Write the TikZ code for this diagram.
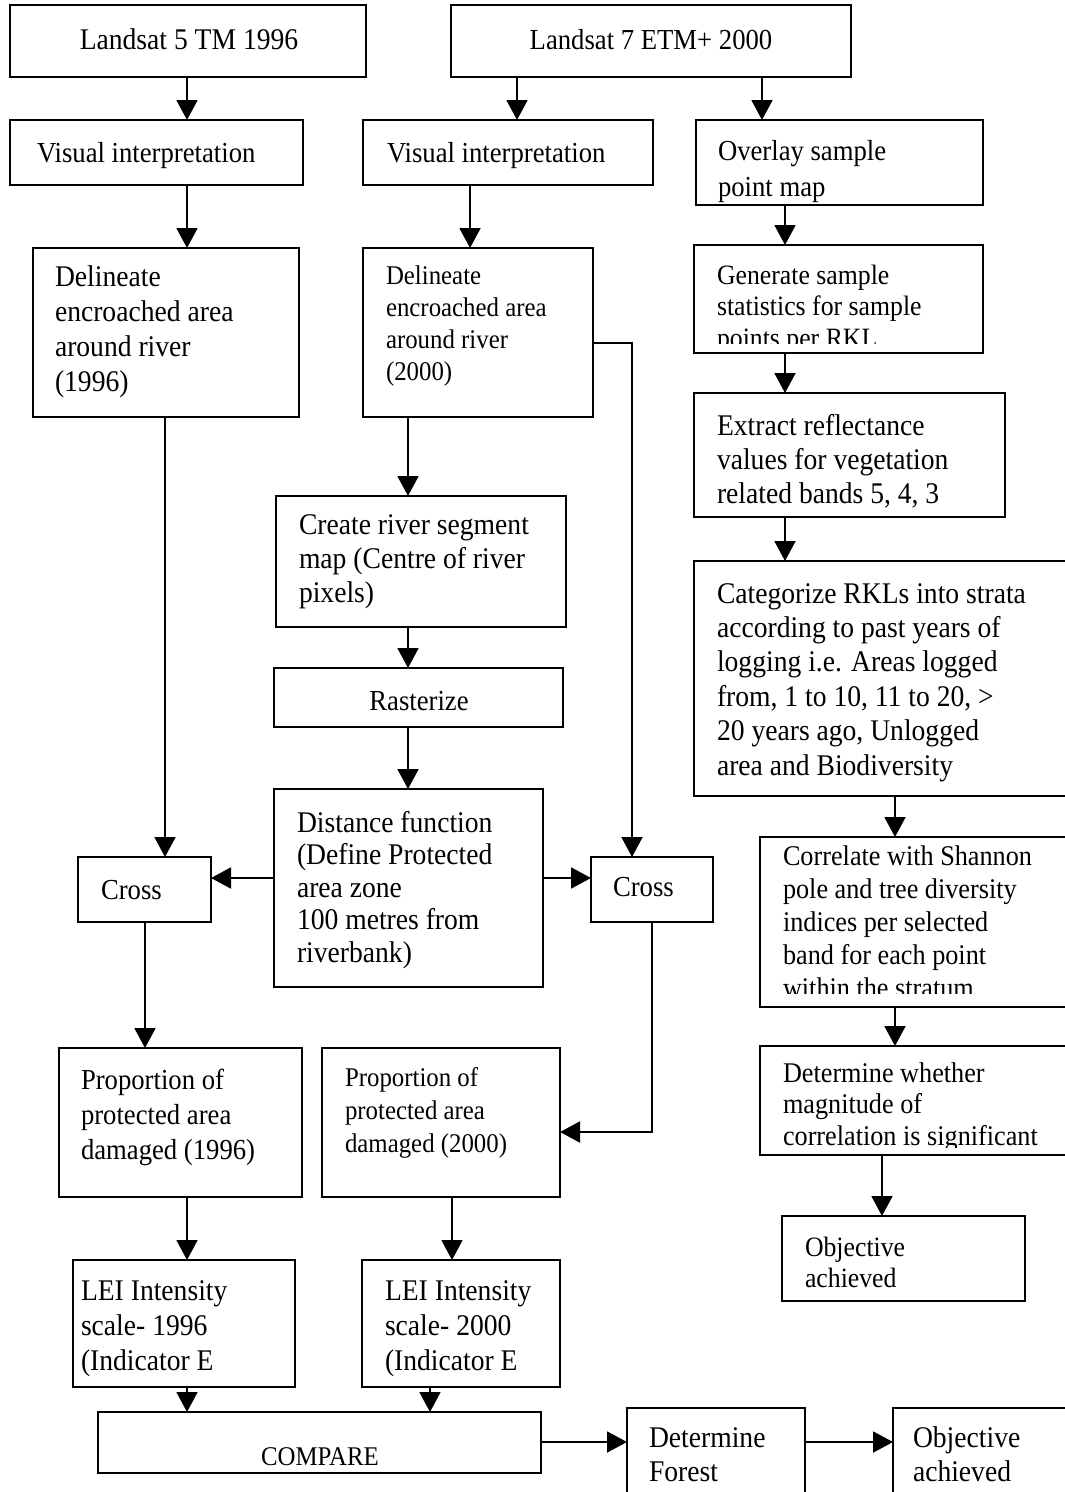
\documentclass[tikz,border=0pt]{standalone}
\usepackage{fontspec}
\setmainfont[FakeStretch=0.92]{Liberation Serif}
\usetikzlibrary{arrows.meta,calc}
\tikzset{
  box/.style={draw, line width=1.9pt, inner sep=0pt, outer sep=0pt, rectangle},
  arr/.style={line width=1.9pt, -{Triangle[length=20pt,width=21pt]}},
  txt/.style={inner sep=0pt, outer sep=0pt, align=left, anchor=north west},
  ctxt/.style={inner sep=0pt, outer sep=0pt, anchor=base},
}
\newcommand\bx[5]{\node[box, anchor=north west, minimum width={#4-#2}, minimum height={#5-#3}] (#1) at (#2,#3) {};}
\newcommand\tx[6]{\node[txt, font=\fontsize{#2}{#3}\selectfont] (#1) at (#4,{#5-24}) {\rule{0pt}{24pt}#6};}
\begin{document}
\begin{tikzpicture}[x=1pt,y=-1pt]
\useasboundingbox (0,0) rectangle (1065,1492);
\clip (0,0) rectangle (1065,1492);
\fill[white] (0,0) rectangle (1065,1492);

% boxes
\bx{ls5}{10}{5}{366}{77}
\bx{ls7}{451}{5}{851}{77}
\bx{vi1}{10}{120}{303}{185}
\bx{vi2}{363}{120}{653}{185}
\bx{ovl}{696}{120}{983}{205}
\bx{del1}{33}{248}{299}{417}
\bx{del2}{363}{248}{593}{417}
\bx{gen}{694}{245}{983}{353}
\bx{ext}{694}{393}{1005}{517}
\bx{crt}{276}{496}{566}{627}
\bx{cat}{694}{561}{1075}{796}
\bx{ras}{274}{668}{563}{727}
\bx{dist}{274}{789}{543}{987}
\bx{crL}{78}{857}{211}{922}
\bx{crM}{591}{857}{713}{922}
\bx{cor}{760}{837}{1075}{1007}
\bx{propL}{59}{1048}{302}{1197}
\bx{propM}{322}{1048}{560}{1197}
\bx{det}{760}{1046}{1075}{1155}
\bx{obj1}{782}{1216}{1025}{1301}
\bx{leiL}{73}{1260}{295}{1387}
\bx{leiM}{362}{1260}{560}{1387}
\bx{cmp}{98}{1412}{541}{1473}
\bx{detf}{627}{1408}{805}{1510}
\bx{obj2}{893}{1408}{1075}{1510}

% texts
\node[ctxt, font=\fontsize{30}{34}\selectfont] (t1) at (189,49) {Landsat 5 TM 1996};
\node[ctxt, font=\fontsize{29}{34}\selectfont] (t2) at (651,49) {Landsat 7 ETM+ 2000};
\tx{t3}{29}{34}{37}{162}{Visual interpretation}
\tx{t4}{29}{34}{387}{162}{Visual interpretation}
\tx{t5}{29}{36}{718}{160}{Overlay sample\\point map}
\tx{t6}{30}{35}{55}{286}{Delineate\\encroached area\\around river\\(1996)}
\tx{t7}{27}{32}{386}{284}{Delineate\\encroached area\\around river\\(2000)}
\begin{scope}
  \clip (gen.north west) rectangle ([yshift=10pt]gen.south east);
  \tx{t8}{28}{31.5}{717}{284}{Generate sample\\statistics for sample\\points per RKL}
\end{scope}
\tx{t9}{30}{34}{717}{435}{Extract reflectance\\values for vegetation\\related bands 5, 4, 3}
\tx{t10}{30}{34}{299}{534}{Create river segment\\map (Centre of river\\pixels)}
\tx{t11}{30}{34.4}{717}{603}{Categorize RKLs into strata\\according to past years of\\logging i.e. Areas logged\\from, 1 to 10, 11 to 20, >\\20 years ago, Unlogged\\area and Biodiversity}
\node[ctxt, font=\fontsize{29}{34}\selectfont] (t12) at (419,710) {Rasterize};
\tx{t13}{30}{32.5}{297}{832}{Distance function\\(Define Protected\\area zone\\100 metres from\\riverbank)}
\tx{t14}{29}{34}{101}{899}{Cross}
\tx{t15}{29}{34}{613}{896}{Cross}
\begin{scope}
  \clip (cor.north west) rectangle ([yshift=14pt]cor.south east);
  \tx{t16}{28.5}{33}{783}{865}{Correlate with Shannon\\pole and tree diversity\\indices per selected\\band for each point\\within the stratum}
\end{scope}
\tx{t17}{29}{35}{81}{1089}{Proportion of\\protected area\\damaged (1996)}
\tx{t18}{27}{33}{345}{1086}{Proportion of\\protected area\\damaged (2000)}
\begin{scope}
  \clip (det.north west) rectangle ([yshift=8pt]det.south east);
  \tx{t19}{28.5}{31.5}{783}{1082}{Determine whether\\magnitude of\\correlation is significant}
\end{scope}
\tx{t20}{28}{31}{805}{1256}{Objective\\achieved}
\tx{t21}{30}{35}{81}{1300}{LEI Intensity\\scale- 1996\\(Indicator E}
\tx{t22}{30}{35}{385}{1300}{LEI Intensity\\scale- 2000\\(Indicator E}
\node[ctxt, font=\fontsize{27}{32}\selectfont] (t23) at (320,1465) {COMPARE};
\tx{t24}{30}{34}{649}{1447}{Determine\\Forest}
\tx{t25}{30}{34}{913}{1447}{Objective\\achieved}

% x / y guide coordinates
\coordinate (x145) at (145,0);
\coordinate (x165) at (165,0);
\coordinate (x187) at (187,0);
\coordinate (x408) at (408,0);
\coordinate (x430) at (430,0);
\coordinate (x452) at (452,0);
\coordinate (x470) at (470,0);
\coordinate (x517) at (517,0);
\coordinate (x632) at (632,0);
\coordinate (x652) at (652,0);
\coordinate (x762) at (762,0);
\coordinate (x785) at (785,0);
\coordinate (x882) at (882,0);
\coordinate (x895) at (895,0);
\coordinate (y343) at (0,343);
\coordinate (y878) at (0,878);
\coordinate (y1132) at (0,1132);
\coordinate (y1442) at (0,1442);

% connectors
\draw[arr] (ls5.south -| x187) -- (vi1.north -| x187);
\draw[arr] (ls7.south -| x517) -- (vi2.north -| x517);
\draw[arr] (ls7.south -| x762) -- (ovl.north -| x762);
\draw[arr] (vi1.south -| x187) -- (del1.north -| x187);
\draw[arr] (vi2.south -| x470) -- (del2.north -| x470);
\draw[arr] (ovl.south -| x785) -- (gen.north -| x785);
\draw[arr] (gen.south -| x785) -- (ext.north -| x785);
\draw[arr] (ext.south -| x785) -- (cat.north -| x785);
\draw[arr] (cat.south -| x895) -- (cor.north -| x895);
\draw[arr] (cor.south -| x895) -- (det.north -| x895);
\draw[arr] (det.south -| x882) -- (obj1.north -| x882);
\draw[arr] (del1.south -| x165) -- (crL.north -| x165);
\draw[arr] (del2.south -| x408) -- (crt.north -| x408);
\draw[arr] (crt.south -| x408) -- (ras.north -| x408);
\draw[arr] (ras.south -| x408) -- (dist.north -| x408);
\draw[arr] (dist.west |- y878) -- (crL.east |- y878);
\draw[arr] (dist.east |- y878) -- (crM.west |- y878);
\draw[arr] (del2.east |- y343) -| (crM.north -| x632);
\draw[arr] (crL.south -| x145) -- (propL.north -| x145);
\draw[arr] (crM.south -| x652) |- (propM.east |- y1132);
\draw[arr] (propL.south -| x187) -- (leiL.north -| x187);
\draw[arr] (propM.south -| x452) -- (leiM.north -| x452);
\draw[arr] (leiL.south -| x187) -- (cmp.north -| x187);
\draw[arr] (leiM.south -| x430) -- (cmp.north -| x430);
\draw[arr] (cmp.east |- y1442) -- (detf.west |- y1442);
\draw[arr] (detf.east |- y1442) -- (obj2.west |- y1442);
\end{tikzpicture}
\end{document}
